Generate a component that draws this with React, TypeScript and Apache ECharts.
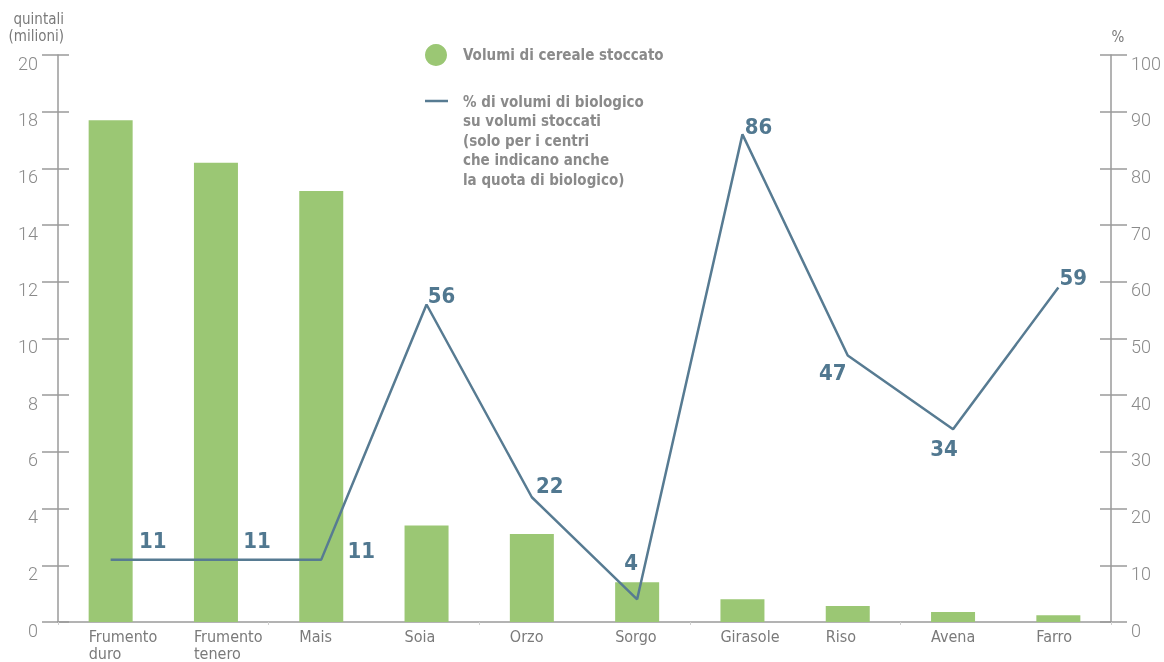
import React, { useEffect, useRef } from "react";
import * as echarts from "echarts";

const categories = [
  "Frumento duro",
  "Frumento tenero",
  "Mais",
  "Soia",
  "Orzo",
  "Sorgo",
  "Girasole",
  "Riso",
  "Avena",
  "Farro",
];
const volumes = [17.7, 16.2, 15.2, 3.4, 3.1, 1.4, 0.8, 0.56, 0.35, 0.24];
const bioShare = [11, 11, 11, 56, 22, 4, 86, 47, 34, 59];
const leftTicks = { min: 0, max: 20, interval: 2 };
const rightTicks = { min: 0, max: 100, interval: 10 };

// label placement (layout only), in px relative to each line point
const labelOffsets = [
  [42, -19],
  [41, -19],
  [40, -9],
  [15, -9],
  [18, -12],
  [-6, -37],
  [16, -8],
  [-15, 17],
  [-9, 19],
  [15, -10],
];

const NARROW = "'Liberation Sans Narrow', 'DejaVu Sans Condensed', 'Roboto', sans-serif";
const GREEN = "#9bc774";
const BLUE = "#577b92";
const GREY = "#8a8a8a";
const AXIS = "#9a9a9a";

export default function App() {
  const ref = useRef<HTMLDivElement>(null);

  useEffect(() => {
    if (!ref.current) return;
    const chart = echarts.init(ref.current, null, { renderer: "svg" });
    const n = categories.length;

    const yBase = (side: "left" | "right", t: any, inside: boolean) => ({
      type: "value",
      position: side,
      min: t.min,
      max: t.max,
      interval: t.interval,
      splitLine: { show: false },
      axisLine: { show: !inside, lineStyle: { color: AXIS, width: 1.5 } },
      axisTick: {
        show: true,
        inside,
        length: inside ? 11 : 16,
        lineStyle: { color: AXIS, width: 1.5 },
      },
      axisLabel: {
        show: !inside,
        margin: 20,
        color: GREY,
        fontFamily: "Roboto, 'Liberation Sans', sans-serif",
        fontWeight: 300,
        fontSize: 18,
        lineHeight: 16,
        verticalAlign: "top",
      },
    });

    chart.setOption({
      animation: false,
      grid: { left: 58, right: 53, top: 55, bottom: 38, containLabel: false },
      xAxis: [
        {
          type: "category",
          data: categories,
          boundaryGap: true,
          axisLine: { lineStyle: { color: AXIS, width: 1.5 } },
          axisTick: { show: true, length: 3, lineStyle: { color: "#d0d0d0" } },
          axisLabel: { show: false },
        },
        {
          type: "value",
          min: 0,
          max: n,
          position: "bottom",
          splitLine: { show: false },
          axisLine: { show: false },
          axisTick: { show: false },
          axisLabel: {
            show: true,
            customValues: categories.map((_, i) => i + 0.5 - 22 / 105.3),
            formatter: (v: number) => categories[Math.floor(v)].replace(" ", "\n"),
            align: "left",
            verticalAlign: "top",
            margin: 6,
            color: "#7a7a7a",
            fontFamily: NARROW,
            fontSize: 16,
            lineHeight: 17,
          },
        },
      ],
      yAxis: [
        yBase("left", leftTicks, false),
        yBase("right", rightTicks, false),
        yBase("left", leftTicks, true),
        yBase("right", rightTicks, true),
      ],
      series: [
        {
          type: "bar",
          name: "Volumi di cereale stoccato",
          xAxisIndex: 0,
          yAxisIndex: 0,
          data: volumes,
          barWidth: 44,
          itemStyle: { color: GREEN },
        },
        {
          type: "line",
          name: "% di volumi di biologico",
          xAxisIndex: 0,
          yAxisIndex: 1,
          symbol: "circle",
          symbolSize: 0,
          showSymbol: true,
          lineStyle: { color: BLUE, width: 2.5 },
          itemStyle: { color: BLUE },
          data: bioShare.map((v, i) => ({
            value: v,
            label: {
              show: true,
              position: "inside",
              offset: labelOffsets[i],
              formatter: String(v),
              color: "#517890",
              fontFamily: NARROW,
              fontWeight: "bold",
              fontSize: 22,
            },
          })),
          z: 5,
        },
      ],
      graphic: [
        {
          type: "text",
          x: 64,
          y: 10,
          style: {
            text: "quintali\n(milioni)",
            fill: "#7a7a7a",
            font: `15px ${NARROW}`,
            lineHeight: 17,
            align: "right",
          },
        },
        {
          type: "text",
          x: 1118,
          y: 37,
          style: {
            text: "%",
            fill: "#7a7a7a",
            font: `15px ${NARROW}`,
            align: "center",
            verticalAlign: "middle",
          },
        },
        {
          type: "circle",
          shape: { cx: 436, cy: 55, r: 11 },
          style: { fill: GREEN },
        },
        {
          type: "text",
          x: 463,
          y: 55,
          style: {
            text: "Volumi di cereale stoccato",
            fill: GREY,
            font: `bold 15px ${NARROW}`,
            verticalAlign: "middle",
          },
        },
        {
          type: "line",
          shape: { x1: 425, y1: 101, x2: 448, y2: 101 },
          style: { stroke: BLUE, lineWidth: 2.5 },
        },
        {
          type: "text",
          x: 463,
          y: 92,
          style: {
            text:
              "% di volumi di biologico\nsu volumi stoccati\n(solo per i centri\nche indicano anche\nla quota di biologico)",
            fill: GREY,
            font: `bold 15px ${NARROW}`,
            lineHeight: 19.5,
          },
        },
      ],
    });
    return () => chart.dispose();
  }, []);

  return (
    <div
      ref={ref}
      style={{ position: "fixed", left: 0, top: 0, width: 1164, height: 662 }}
    />
  );
}
